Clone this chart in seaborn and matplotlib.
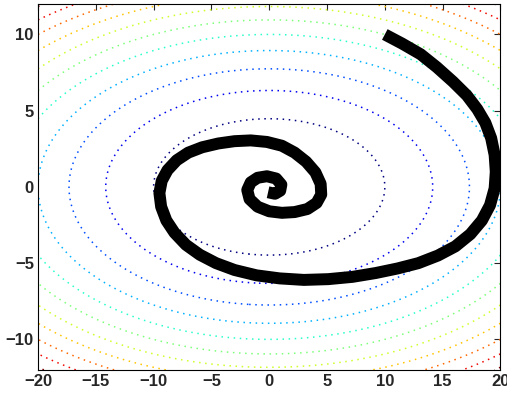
import numpy as np
import seaborn as sns
import matplotlib.pyplot as plt

# spiral path (x, y)
path_x = [10.0, 11.5, 13.1, 14.5, 15.9, 17.1, 18.0, 18.7, 19.2, 19.5, 19.6, 19.5,
          19.1, 18.4, 17.4, 16.1, 14.6, 12.9, 11.1, 9.2, 7.2, 5.1, 3.0, 0.9,
          -1.1, -3.0, -4.6, -6.0, -7.2, -8.2, -8.9, -9.35, -9.5, -9.3, -8.8, -8.0,
          -7.0, -5.8, -4.4, -3.0, -1.6, -0.2, 1.1, 2.2, 3.2, 4.0, 4.45, 4.5,
          4.1, 3.3, 2.2, 1.1, 0.0, -1.0, -1.7, -1.9, -1.6, -1.0, -0.2, 0.6,
          1.05, 0.95, 0.5, -0.1]
path_y = [10.0, 9.4, 8.7, 7.85, 6.9, 6.0, 5.1, 4.2, 3.2, 2.1, 1.0, -0.1,
          -1.2, -2.2, -3.1, -3.9, -4.5, -5.0, -5.35, -5.65, -5.9, -6.05, -6.1, -6.0,
          -5.8, -5.45, -5.0, -4.45, -3.8, -3.0, -2.2, -1.3, -0.4, 0.4, 1.1, 1.75,
          2.25, 2.6, 2.85, 3.0, 3.05, 2.95, 2.7, 2.25, 1.65, 0.95, 0.2, -0.5,
          -1.05, -1.45, -1.65, -1.7, -1.6, -1.3, -0.8, -0.2, 0.3, 0.6, 0.7, 0.55,
          0.15, -0.25, -0.45, -0.35]

# quadratic bowl z = a*x^2 + b*y^2 and its contour levels
coef_a = 1.0
coef_b = 5.0
levels = [100, 200, 300, 400, 500, 600, 700, 800, 900, 1000, 1100]

xticks = [-20, -15, -10, -5, 0, 5, 10, 15, 20]
yticks = [-10, -5, 0, 5, 10]

sns.set_style("white")
plt.rcParams['font.family'] = ['Liberation Sans', 'DejaVu Sans']

fig = plt.figure(figsize=(5.07, 3.96), dpi=100)
ax = fig.add_axes([0.075, 0.066, 0.912, 0.924])

gx, gy = np.meshgrid(np.linspace(-20, 20, 401), np.linspace(-12, 12, 241))
gz = coef_a * gx ** 2 + coef_b * gy ** 2
# colours spread over the level range, like matlab's contour
cs = ax.contour(gx, gy, gz, levels=levels, cmap='jet', vmin=levels[0], vmax=levels[-1],
                linewidths=1.1)
cs.set_linestyle((0, (1, 3)))

sns.lineplot(x=path_x, y=path_y, sort=False, estimator=None, color='black',
             linewidth=8.6, ax=ax, solid_capstyle='butt', solid_joinstyle='round')

ax.set_xlim(-20, 20)
ax.set_ylim(-12, 12)
ax.set_xticks(xticks)
ax.set_yticks(yticks)
ax.tick_params(direction='in', length=4, width=0.8, top=True, right=True,
               labelsize=12, pad=3)
for lab in ax.get_xticklabels() + ax.get_yticklabels():
    lab.set_fontweight('bold')
for sp in ax.spines.values():
    sp.set_color('black')
    sp.set_linewidth(0.8)

fig.savefig('out.png', dpi=100)
